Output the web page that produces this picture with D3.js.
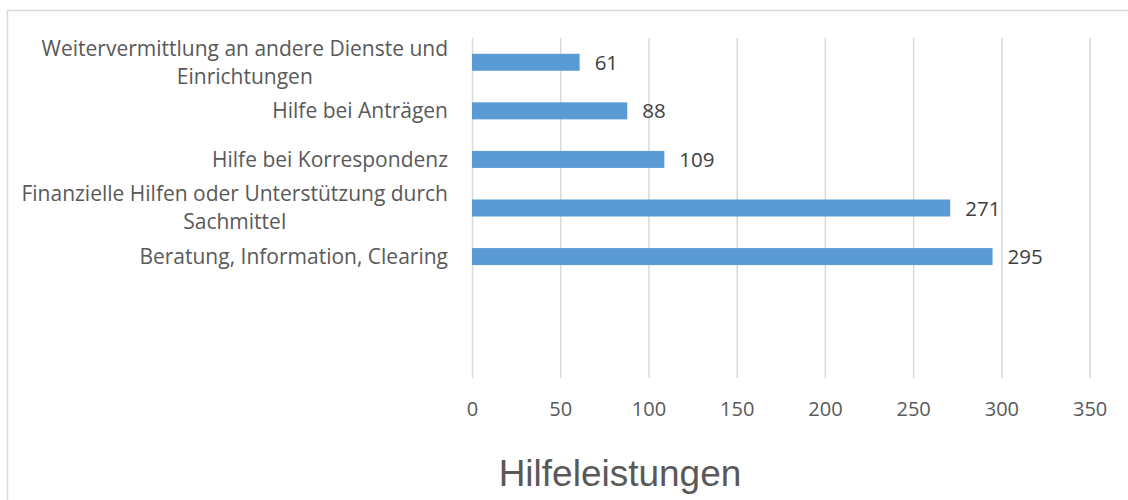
<!DOCTYPE html>
<html>
<head>
<meta charset="utf-8">
<script src="https://cdn.jsdelivr.net/npm/d3@7"></script>
<style>
  body { margin: 0; background: #fff; }
  svg { display: block; }
</style>
</head>
<body>
<svg id="chart"></svg>
<script>
const width = 1128;
const height = 500;

// data (top to bottom), last two slots are empty
const categories = [
  "Weitervermittlung an andere Dienste und|Einrichtungen",
  "Hilfe bei Anträgen",
  "Hilfe bei Korrespondenz",
  "Finanzielle Hilfen oder Unterstützung durch|Sachmittel",
  "Beratung, Information, Clearing",
  "",
  ""
];
const values = [61, 88, 109, 271, 295, null, null];
const xTicks = [0, 50, 100, 150, 200, 250, 300, 350];
const title = "Hilfeleistungen";

const data = categories.map((c, i) => ({ id: i, label: c, value: values[i] }));

const labelFont = "'Open Sans', Lato, sans-serif";

const svg = d3.select("#chart")
  .attr("width", width)
  .attr("height", height);

// outer frame
svg.append("rect")
  .attr("x", 7.5).attr("y", 10.5)
  .attr("width", 1140).attr("height", 520)
  .attr("fill", "#fff")
  .attr("stroke", "#d9d9d9")
  .attr("stroke-width", 1.5);

const plot = { left: 472, right: 1089.6, top: 38, bottom: 378 };

const x = d3.scaleLinear()
  .domain([0, 350])
  .range([plot.left, plot.right]);

const y = d3.scaleBand()
  .domain(data.map(d => d.id))
  .range([plot.top, plot.bottom])
  .paddingInner(0.65)
  .paddingOuter(0.325);

// vertical gridlines
svg.append("g")
  .attr("transform", `translate(0,${plot.bottom})`)
  .call(d3.axisBottom(x).tickValues(xTicks).tickSize(-(plot.bottom - plot.top)).tickFormat(""))
  .call(g => g.select(".domain").remove())
  .call(g => g.selectAll("line").attr("stroke", "#d9d9d9").attr("stroke-width", 1.5));

// tick labels
svg.append("g")
  .attr("transform", `translate(0,${plot.bottom + 21})`)
  .call(d3.axisBottom(x).tickValues(xTicks).tickSize(0))
  .call(g => g.select(".domain").remove())
  .call(g => g.selectAll("text")
    .attr("dy", "0.71em")
    .style("font-family", labelFont)
    .style("font-size", "20px")
    .attr("fill", "#595959"));

// bars
svg.append("g")
  .selectAll("rect")
  .data(data.filter(d => d.value != null))
  .join("rect")
  .attr("x", x(0))
  .attr("y", d => y(d.id))
  .attr("width", d => x(d.value) - x(0))
  .attr("height", y.bandwidth())
  .attr("fill", "#5b9bd5");

// value labels
svg.append("g")
  .selectAll("text")
  .data(data.filter(d => d.value != null))
  .join("text")
  .attr("x", d => x(d.value) + 15)
  .attr("y", d => y(d.id) + y.bandwidth() / 2)
  .attr("dy", "0.37em")
  .style("font-family", labelFont)
  .style("font-size", "20.5px")
  .attr("fill", "#404040")
  .text(d => d.value);

// category labels, wrapped lines centred within a right-aligned block
const catG = svg.append("g");
data.forEach(d => {
  if (!d.label) return;
  const lines = d.label.split("|");
  const cy = y(d.id) + y.bandwidth() / 2;
  const lh = 28;
  const g = catG.append("g");
  const texts = g.selectAll("text")
    .data(lines)
    .join("text")
    .attr("y", (l, i) => cy + (i - (lines.length - 1) / 2) * lh)
    .attr("dy", "0.35em")
    .attr("text-anchor", "middle")
    .style("font-family", labelFont)
    .style("font-size", "21px")
    .attr("fill", "#595959")
    .text(l => l);
  const w = d3.max(texts.nodes(), n => n.getComputedTextLength());
  texts.attr("x", 448 - w / 2);
});

// title
svg.append("text")
  .attr("x", 620)
  .attr("y", 486)
  .attr("text-anchor", "middle")
  .style("font-family", "'Liberation Sans', Arial, sans-serif")
  .style("font-size", "37px")
  .attr("fill", "#595959")
  .text(title);
</script>
</body>
</html>
